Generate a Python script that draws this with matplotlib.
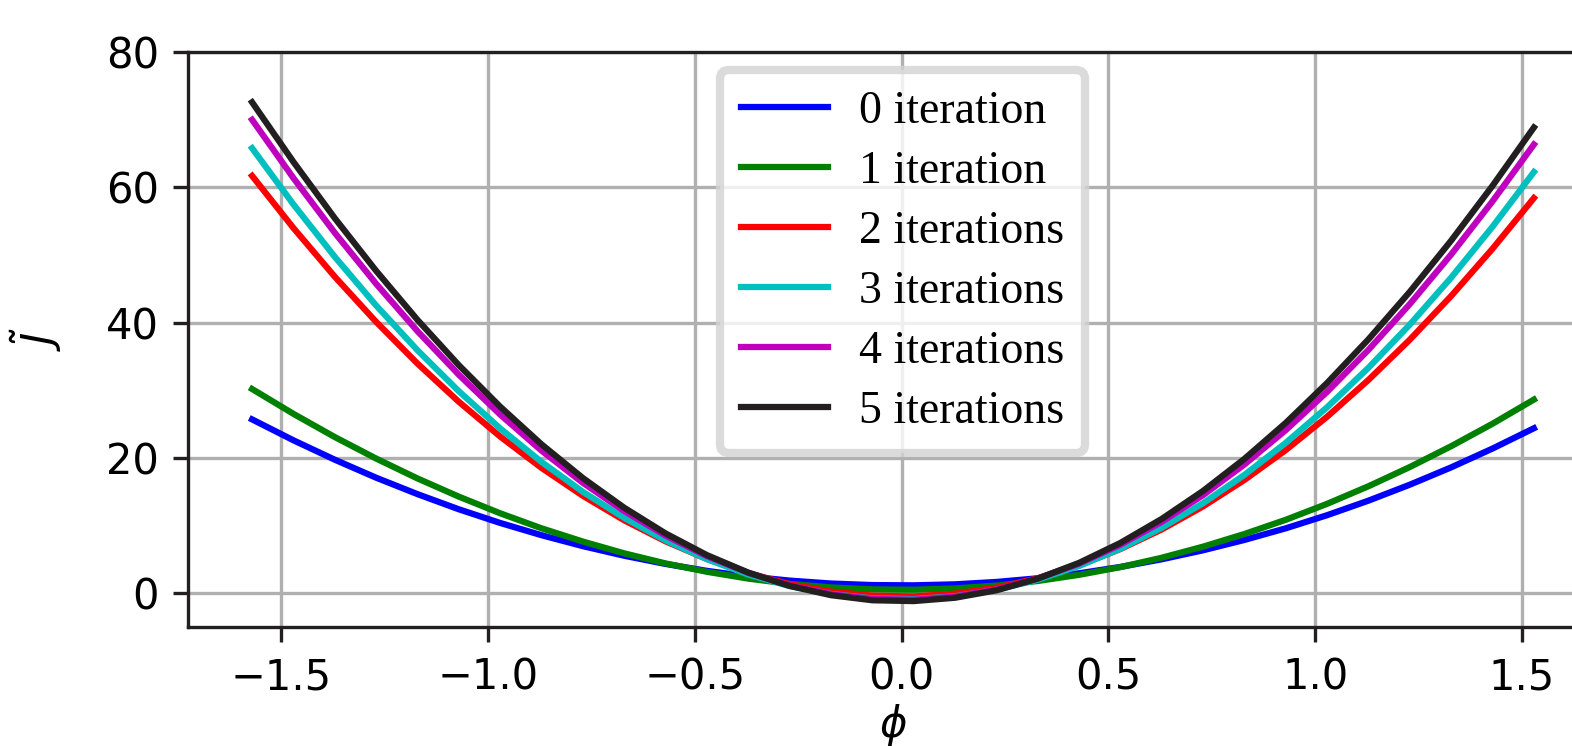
import numpy as np
import matplotlib
matplotlib.use("Agg")
import matplotlib.pyplot as plt

# x grid: phi from -pi/2 with step 0.1
phi = np.arange(-np.pi / 2, np.pi / 2, 0.1)

labels = ["0 iteration", "1 iteration", "2 iterations",
          "3 iterations", "4 iterations", "5 iterations"]
colors = ["b", "g", "r", "c", "m", "#231f20"]

iter0 = [25.69, 22.60, 19.73, 17.07, 14.64, 12.40, 10.38, 8.57, 6.95, 5.53, 4.32,
         3.30, 2.48, 1.86, 1.43, 1.20, 1.16, 1.31, 1.66, 2.20, 2.94, 3.88, 5.01,
         6.34, 7.87, 9.59, 11.53, 13.68, 16.04, 18.60, 21.38, 24.38]
iter1 = [30.18, 26.51, 23.08, 19.90, 16.96, 14.27, 11.81, 9.59, 7.63, 5.89, 4.40,
         3.16, 2.15, 1.38, 0.85, 0.56, 0.51, 0.70, 1.13, 1.80, 2.71, 3.85, 5.24,
         6.88, 8.75, 10.85, 13.21, 15.81, 18.65, 21.73, 25.05, 28.62]
iter2 = [61.69, 53.98, 46.78, 40.10, 33.94, 28.29, 23.15, 18.52, 14.39, 10.77, 7.66,
         5.05, 2.94, 1.34, 0.23, -0.37, -0.48, -0.08, 0.81, 2.21, 4.11, 6.52, 9.42,
         12.83, 16.74, 21.16, 26.09, 31.53, 37.48, 43.94, 50.92, 58.41]
iter3 = [65.78, 57.47, 49.72, 42.53, 35.91, 29.85, 24.35, 19.39, 14.98, 11.12, 7.80,
         5.02, 2.76, 1.05, -0.12, -0.77, -0.88, -0.46, 0.50, 1.99, 4.02, 6.57, 9.67,
         13.31, 17.49, 22.23, 27.49, 33.33, 39.71, 46.66, 54.18, 62.26]
iter4 = [69.98, 61.36, 53.27, 45.73, 38.73, 32.29, 26.40, 21.07, 16.31, 12.13, 8.51,
         5.48, 3.02, 1.14, -0.15, -0.85, -0.97, -0.51, 0.54, 2.17, 4.38, 7.17, 10.55,
         14.50, 19.03, 24.11, 29.77, 35.98, 42.75, 50.08, 57.94, 66.33]
iter5 = [72.57, 63.75, 55.43, 47.65, 40.40, 33.70, 27.57, 22.00, 17.02, 12.63, 8.83,
         5.63, 3.04, 1.07, -0.30, -1.05, -1.17, -0.68, 0.42, 2.15, 4.48, 7.43, 10.98,
         15.12, 19.86, 25.18, 31.08, 37.54, 44.56, 52.13, 60.23, 68.84]
series = [iter0, iter1, iter2, iter3, iter4, iter5]

fig = plt.figure(figsize=(5.24, 2.4867), dpi=300)
ax = fig.add_axes([188 / 1572, 119 / 746, (1598 - 188) / 1572, (627 - 52) / 746])

for ys, c, lab in zip(series, colors, labels):
    ax.plot(phi, ys, color=c, lw=1.5, label=lab)

ax.set_ylim(-5, 80)
ax.set_yticks([0, 20, 40, 60, 80])
ax.grid(True, color="#b0b0b0", lw=0.8)
ax.set_axisbelow(True)
for s in ax.spines.values():
    s.set_color("#231f20")
ax.tick_params(colors="#231f20", labelcolor="black", labelsize=10)
ax.set_xlabel(r"$\phi$", fontsize=10, labelpad=1)
ax.set_ylabel(r"$\tilde{J}$", fontsize=10, labelpad=10)

leg = ax.legend(loc="upper center", bbox_to_anchor=(0.5067, 0.9687),
                borderaxespad=0.0,
                prop={"family": "Liberation Serif", "size": 11},
                labelspacing=0.38, handlelength=1.9, handletextpad=0.68,
                borderpad=0.45, fancybox=True, framealpha=0.8)
leg.get_frame().set_linewidth(2.0)
leg.get_frame().set_edgecolor("#d3d3d3")

fig.savefig("out.png", dpi=300)
